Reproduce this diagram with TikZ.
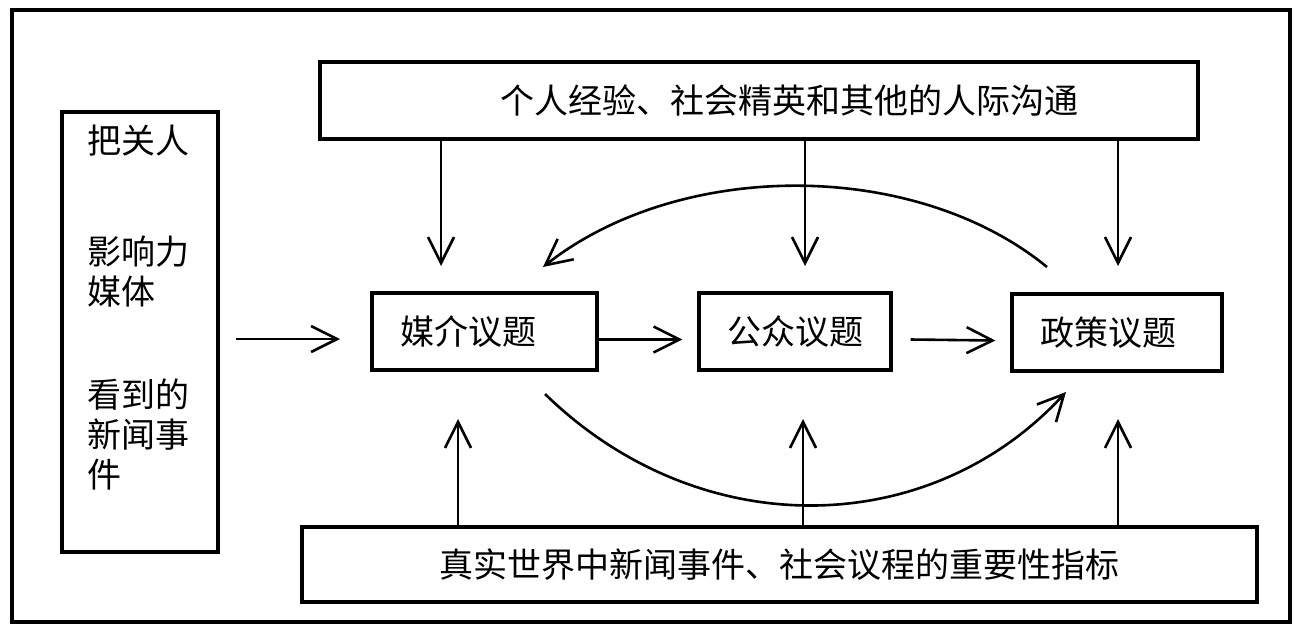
\documentclass[tikz,border=0pt]{standalone}
\usepackage{fontspec}
\newfontfamily\cjk{Noto Sans CJK SC}
\usetikzlibrary{arrows.meta}
\tikzset{
  boxline/.style={draw=black, line width=1.6pt},
  cjktext/.style={font=\cjk\fontsize{17}{20}\selectfont},
  issue/.style={boxline, cjktext, inner xsep=14pt, inner ysep=0pt, align=left, minimum height=38.5pt},
  arr/.style={-{Straight Barb[length=13pt,width=13pt]}, line width=1.3pt},
}
\begin{document}
\begin{tikzpicture}[x=0.5pt,y=-0.5pt]
\useasboundingbox (0,0) rectangle (1299,638);
% outer frame
\draw[line width=2.2pt] (12,10) rectangle (1290,622);
% boxes
\node[boxline, minimum width=439pt, minimum height=38.5pt, inner sep=0pt] (top) at (759,100.5) {};
\node[cjktext, inner sep=0pt] (toptext) at (789,100.5) {个人经验、社会精英和其他的人际沟通};
\node[boxline, minimum width=477.5pt, minimum height=37.5pt, inner sep=0pt, cjktext] (bottom) at (779.5,564.5) {真实世界中新闻事件、社会议程的重要性指标};
\node[boxline, minimum width=78pt, minimum height=220pt, inner sep=0pt] (lbox) at (140,332) {};
\node[cjktext, inner sep=0pt, anchor=north west, align=left] (ltext) at (87,125)
  {把关人\\[35.5pt]影响力\\媒体\\[31.5pt]看到的\\新闻事\\件};
\node[issue, text width=84.5pt] (media) at (484.5,331.5) {媒介议题};
\node[issue, text width=68pt] (public) at (795,331.5) {公众议题};
\node[issue, text width=77pt] (policy) at (1117,332.5) {政策议题};
% down arrows
\coordinate (d1) at (441,266);
\coordinate (d2) at (805,266);
\coordinate (d3) at (1118,266);
\draw[arr] (top.south -| d1) -- (d1);
\draw[arr] (top.south -| d2) -- (d2);
\draw[arr] (top.south -| d3) -- (d3);
% up arrows
\coordinate (u1) at (458,419);
\coordinate (u2) at (803,419);
\coordinate (u3) at (1118,419);
\draw[arr] (bottom.north -| u1) -- (u1);
\draw[arr] (bottom.north -| u2) -- (u2);
\draw[arr] (bottom.north -| u3) -- (u3);
% horizontal arrows
\coordinate (l1) at (236,339);
\coordinate (l2) at (340,339);
\draw[arr] (l1) -- (l2);
\draw[arr] ([yshift=-4pt]media.east) -- ([xshift=-7.5pt,yshift=-4pt]public.west);
\draw[arr] ([xshift=9pt,yshift=-4pt]public.east) -- ([xshift=-7.5pt,yshift=-4pt]policy.west);
% curves
\coordinate (c1s) at (1047,267);
\coordinate (c1e) at (543,267);
\draw[arr] (c1s) .. controls (915,159) and (680,159) .. (c1e);
\coordinate (c2s) at (545,394);
\coordinate (c2e) at (1066,392);
\draw[arr] (c2s) .. controls (700,545) and (930,540) .. (c2e);
\end{tikzpicture}
\end{document}
